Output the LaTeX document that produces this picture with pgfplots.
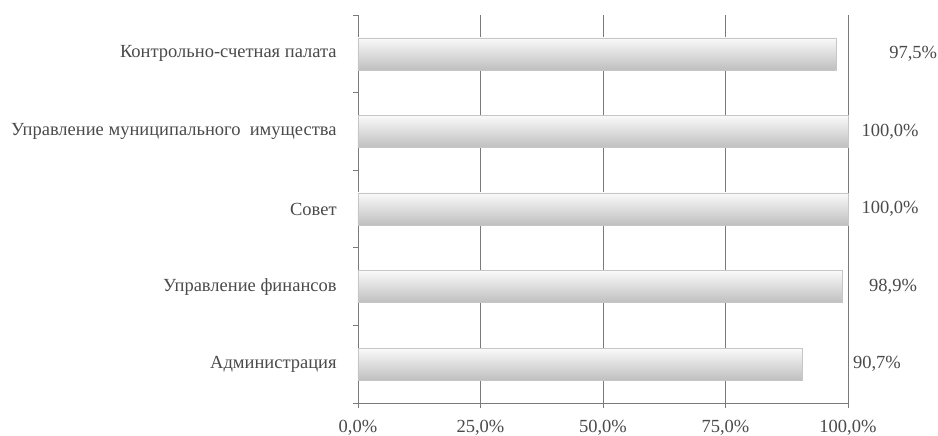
\documentclass[border=0pt]{standalone}
\usepackage{pgfplots}
\pgfplotsset{compat=1.18}
\usepackage{fontspec}
\setmainfont{Liberation Serif}
\definecolor{txt}{HTML}{4A4A4A}
\definecolor{grd}{HTML}{7A7A7A}
\pgfplotsset{mybar/.style={draw=gray!45, line width=0.4pt, top color=gray!4, middle color=gray!20, bottom color=gray!50, bar shift=0pt}}
\begin{document}
\begin{tikzpicture}
\fontsize{18.5}{22}\selectfont
\begin{axis}[
  at={(0,0)}, anchor=south west,
  scale only axis, width=490pt, height=388pt,
  xmin=0, xmax=100, ymin=-0.5, ymax=4.5,
  xbar, bar width=32pt,
  axis x line*=bottom, axis y line*=left,
  axis line style={grd, line width=0.8pt},
  xtick={0,25,50,75,100},
  xticklabels={{0,0\%},{25,0\%},{50,0\%},{75,0\%},{100,0\%}},
  xmajorgrids, grid style={grd, line width=0.9pt},
  ytick={0,1,2,3,4},
  yticklabels={Администрация, Управление финансов, Совет, Управление муниципального~ имущества, Контрольно-счетная палата},
  minor ytick={-0.5,0.5,1.5,2.5,3.5,4.5},
  major tick length=5pt,
  minor tick length=5pt,
  tick align=outside,
  every major y tick/.append style={draw opacity=0},
  tick style={grd, line width=0.8pt},
  ticklabel style={font=\fontsize{18.5}{22}\selectfont, text=txt},
  yticklabel style={xshift=-10pt},
  xticklabel style={yshift=-6pt},
  clip=false,
]
\addplot[mybar] coordinates {(90.7,0)};
\addplot[mybar] coordinates {(98.9,1)};
\addplot[mybar] coordinates {(100,2)};
\addplot[mybar] coordinates {(100,3)};
\addplot[mybar] coordinates {(97.5,4)};
\node[text=txt, font=\fontsize{18.5}{22}\selectfont] at (axis cs:105.9,0) {90,7\%};
\node[text=txt, font=\fontsize{18.5}{22}\selectfont] at (axis cs:109.2,1) {98,9\%};
\node[text=txt, font=\fontsize{18.5}{22}\selectfont] at (axis cs:108.6,2) {100,0\%};
\node[text=txt, font=\fontsize{18.5}{22}\selectfont] at (axis cs:108.6,3) {100,0\%};
\node[text=txt, font=\fontsize{18.5}{22}\selectfont] at (axis cs:113.3,4) {97,5\%};
\end{axis}
\pgfresetboundingbox
\path (-358pt,-33pt) rectangle (580pt,403pt);
\end{tikzpicture}
\end{document}
